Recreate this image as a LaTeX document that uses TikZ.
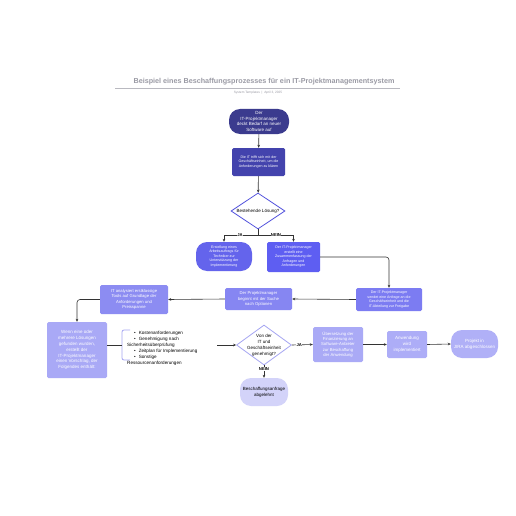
\documentclass[tikz,border=0pt]{standalone}
\usepackage{fontspec}
\setmainfont{Liberation Sans}
\usetikzlibrary{shapes.geometric,arrows.meta}
\definecolor{cA}{HTML}{3B3B8E}
\definecolor{cB}{HTML}{4343AD}
\definecolor{cD}{HTML}{5555DD}
\definecolor{cE}{HTML}{6464EC}
\definecolor{cZ}{HTML}{5E5EF2}
\definecolor{cS}{HTML}{7C7CF2}
\definecolor{cSu}{HTML}{8686F2}
\definecolor{cIt}{HTML}{8C8CF2}
\definecolor{cW}{HTML}{A9A9F6}
\definecolor{cU}{HTML}{AAAAF6}
\definecolor{cAn}{HTML}{ADADF7}
\definecolor{cP}{HTML}{B0B0F7}
\definecolor{cD2}{HTML}{A5A5F2}
\definecolor{cAb}{HTML}{D3D3F9}
\definecolor{cLine}{HTML}{333333}
\definecolor{cTitle}{HTML}{9B9BA5}
\begin{document}
\begin{tikzpicture}[x=1pt,y=-1pt,
  base/.style={text=white, align=center, inner sep=0.5pt},
  boxn/.style={base, rounded corners=1.5pt},
  pill/.style={base, rounded corners=11pt},
  fs/.style={font=\fontsize{3.6}{4.5}\selectfont},
  fm/.style={font=\fontsize{4.2}{5.3}\selectfont},
  fl/.style={font=\fontsize{4.5}{5.9}\selectfont},
  conn/.style={draw=cLine, line width=0.6pt, -{Stealth[length=3pt,width=2.6pt]}},
  plainconn/.style={draw=cLine, line width=0.6pt},
  lab/.style={fill=white, inner sep=0.4pt, font=\fontsize{4.2}{5}\selectfont\bfseries, text=black}
]
\useasboundingbox[fill=white] (0,0) rectangle (516,516);
% title
\node[font=\fontsize{7.2}{8}\selectfont\bfseries, text=cTitle] (title) at (264,82) {Beispiel eines Beschaffungsprozesses für ein IT-Projektmanagementsystem};
\draw[draw=cTitle!70, line width=0.5pt] (115,88) -- (400,88);
\node[font=\fontsize{3.2}{3.5}\selectfont, text=cTitle] (sub) at (258,92.5) {System Templates \ | \ April 3, 2025};

% nodes
\node[pill, fl, fill=cA, minimum width=60pt, minimum height=25pt] (n1) at (259,121.5) {Der\\IT-Projektmanager\\deckt Bedarf an neuer\\Software auf};
\node[boxn, fs, fill=cB, minimum width=53pt, minimum height=28pt] (n2) at (258.5,162) {Die IT trifft sich mit der\\Geschäftseinheit, um die\\Anforderungen zu klären};
\node[diamond, draw=cD, line width=0.8pt, fill=white, minimum width=54pt, minimum height=36pt, inner sep=0pt] (d1) at (258,211) {};
\node[fl, text=black] (d1t) at (d1) {Bestehende Lösung?};
\node[pill, fs, fill=cE, minimum width=56pt, minimum height=29pt] (erst) at (224,256.5) {Erstellung eines\\Arbeitsauftrags für\\Techniker zur\\Unterstützung der\\Implementierung};
\node[boxn, fs, fill=cZ, minimum width=53pt, minimum height=30pt] (zus) at (293.5,257) {Der IT-Projektmanager\\erstellt eine\\Zusammenfassung der\\Anfragen und\\Anforderungen};
\node[boxn, fs, fill=cS, minimum width=66pt, minimum height=23pt] (send) at (389,299.5) {Der IT-Projektmanager\\sendet eine Anfrage an die\\Geschäftseinheit und die\\IT-Abteilung zur Freigabe};
\node[boxn, fm, fill=cSu, minimum width=67pt, minimum height=22pt] (such) at (258.5,299) {Der Projektmanager\\beginnt mit der Suche\\nach Optionen};
\node[boxn, fm, fill=cIt, minimum width=68pt, minimum height=29pt] (it) at (134,299.5) {IT analysiert erstklassige\\Tools auf Grundlage der\\Anforderungen und\\Preisspanne};
\node[boxn, fl, fill=cW, minimum width=60pt, minimum height=56pt] (wenn) at (77,350) {Wenn eine oder\\mehrere Lösungen\\gefunden wurden,\\erstellt der\\IT-Projektmanager\\einen Vorschlag, der\\Folgendes enthält:};
\draw[draw=cD2, line width=0.8pt, rounded corners=2pt] (130,330) -- (122,330) -- (122,360) -- (130,360);
\node[align=left, text=black, font=\fontsize{4.6}{6}\selectfont, inner sep=0pt, anchor=west] (list) at (127,348.5) {\hspace*{7pt}•\hspace{3pt}Kostenanforderungen\\\hspace*{7pt}•\hspace{3pt}Genehmigung nach\\Sicherheitsüberprüfung\\\hspace*{7pt}•\hspace{3pt}Zeitplan für Implementierung\\\hspace*{7pt}•\hspace{3pt}Sonstige\\Ressourcenanforderungen};
\coordinate (lstart) at (217,345);
\node[diamond, draw=cD2, line width=0.8pt, fill=white, minimum width=55pt, minimum height=40pt, inner sep=0pt] (d2) at (264,345) {};
\node[fl, text=black, align=center, inner sep=0pt] (d2t) at (d2) {Von der\\IT und\\Geschäftseinheit\\genehmigt?};
\node[boxn, fm, fill=cU, minimum width=50pt, minimum height=35pt] (ueb) at (338,344.5) {Übersetzung der\\Finanzierung an\\Software-Anbieter\\zur Beschaffung\\der Anwendung};
\node[boxn, fl, fill=cAn, minimum width=40pt, minimum height=27pt] (anw) at (407,344.5) {Anwendung\\wird\\implementiert};
\node[pill, fl, fill=cP, minimum width=47pt, minimum height=28pt] (proj) at (474.5,344) {Projekt in\\JIRA abgeschlossen};
\node[pill, fl, fill=cAb, text=black, minimum width=48pt, minimum height=28pt] (abg) at (264,392) {Beschaffungsanfrage\\abgelehnt};

% connectors
\draw[conn] (n1) -- (n2);
\draw[conn] (n2) -- (d1);
\coordinate (split) at (258,235);
\draw[plainconn] (d1.south) -- (split);
\draw[conn] (split) -| (erst.north);
\draw[conn] (split) -| (zus.north);
\node[lab] (ja1) at (240,235) {JA};
\node[lab] (nein1) at (276,235) {NEIN};
\draw[conn, rounded corners=3pt] (zus.east) -| (send.north);
\draw[conn] (send.west) -- (such.east);
\draw[conn] (such.west) -- (it.east);
\draw[conn, rounded corners=3pt] (it.west) -| (wenn.north);
\draw[plainconn] (wenn.east |- 0,345) -- (122,345);
\draw[conn] (lstart) -- (d2.west);
\draw[conn] (d2.east) -- (ueb.west) node[lab, pos=0.35] (ja2) {JA};
\draw[conn] (ueb.east) -- (anw.west);
\draw[conn] (anw.east) -- (proj.west);
\draw[conn] (d2.south) -- (abg.north) node[lab, pos=0.3] (nein2) {NEIN};
\end{tikzpicture}
\end{document}
